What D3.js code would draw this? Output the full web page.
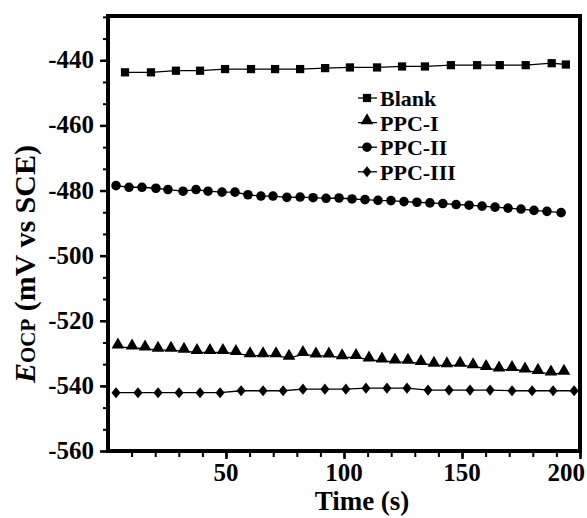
<!DOCTYPE html>
<html lang="en">
<head>
    <meta charset="UTF-8">
    <title>OCP vs time</title>
    <script src="https://d3js.org/d3.v7.min.js"></script>
    <style type="text/css">
        body { margin: 0; background: #fff; }
        text { font-family: "Liberation Serif", "Times New Roman", serif; font-weight: bold; }
    </style>
</head>
    <body>
        <script type="text/javascript">

        //Series data (time in s, potential in mV)
        var blankTime = [7.2, 18.2, 28.8, 39, 49.6, 60.6, 70.8, 81.4, 92, 102.5, 114, 124.6, 134.3, 145.3, 156.4, 166, 177, 188, 194];
        var blankEocp = [-443.7, -443.7, -443.2, -443.2, -442.7, -442.7, -442.7, -442.7, -442.4, -442.2, -442.2, -441.9, -441.9, -441.5, -441.5, -441.5, -441.5, -440.9, -441.3];

        var ppc1Time = [4.2, 10.2, 15.7, 21.2, 26.7, 32.2, 37.7, 43.2, 48.7, 54.2, 60.2, 65.7, 71.2, 76.7, 82.6, 88.1, 93.6, 99.2, 105.1, 110.6, 116.1, 121.6, 127.1, 132.6, 138.1, 143.6, 149.2, 154.7, 160.2, 165.7, 171.2, 176.7, 182.2, 187.7, 193.2];
        var ppc1Eocp = [-528.0, -528.3, -528.6, -529.0, -529.0, -529.3, -529.7, -529.7, -529.7, -530.0, -530.7, -530.7, -530.7, -531.5, -530.3, -530.8, -530.8, -531.3, -531.2, -532.0, -532.3, -532.6, -532.7, -533.1, -533.6, -533.8, -533.6, -534.1, -534.6, -535.1, -534.9, -535.4, -535.8, -536.3, -536.1];

        var ppc2Time = [3.4, 8.9, 14.4, 20.3, 25.4, 31.8, 37.3, 42.4, 48.3, 53.8, 59.3, 64.8, 69.9, 75.8, 81.4, 86.9, 92.4, 97.9, 103.4, 108.9, 114.4, 119.9, 125.4, 130.9, 136.4, 141.9, 147.5, 153, 158.5, 164, 169.5, 175, 180.5, 186, 192];
        var ppc2Eocp = [-478.5, -479.0, -479.0, -479.3, -479.7, -480.2, -479.7, -480.2, -480.5, -480.5, -481.3, -481.7, -481.7, -482.1, -482.0, -482.2, -482.4, -482.3, -482.6, -482.8, -483.0, -483.1, -483.4, -483.6, -483.8, -484.0, -484.3, -484.5, -484.8, -485.1, -485.4, -485.7, -486.1, -486.4, -486.8];

        var ppc3Time = [3.4, 12.7, 21.2, 30.1, 39, 47.5, 56.4, 65.7, 74.2, 82.6, 91.9, 100.8, 109.3, 118.2, 126.7, 135.6, 144.5, 153.4, 161.9, 171.2, 179.7, 188.6, 197.5];
        var ppc3Eocp = [-542.1, -542.1, -542.1, -542.1, -542.1, -542.1, -541.5, -541.5, -541.5, -541.0, -541.0, -541.0, -540.7, -540.7, -540.7, -541.3, -541.3, -541.3, -541.3, -541.5, -541.5, -541.5, -541.5];

        var seriesNames = ["Blank", "PPC-I", "PPC-II", "PPC-III"];
        var xTicks = [50, 100, 150, 200];
        var yTicks = [-560, -540, -520, -500, -480, -460, -440];

        //Width and height
        var w = 587;
        var h = 518;
        var plotLeft = 108, plotRight = 580, plotTop = 16, plotBottom = 451;

        var xScale = d3.scaleLinear().domain([0, 200]).range([plotLeft, plotRight]);
        var yScale = d3.scaleLinear().domain([-560, -426.4]).range([plotBottom, plotTop]);

        //diamond a bit wider than d3's own
        var wideDiamond = {
            draw: function(context, size) {
                var hy = Math.sqrt(size) * 0.62, hx = hy * 0.82;
                context.moveTo(0, -hy);
                context.lineTo(hx, 0);
                context.lineTo(0, hy);
                context.lineTo(-hx, 0);
                context.closePath();
            }
        };

        var series = [
            {name: seriesNames[0], t: blankTime, v: blankEocp, sym: d3.symbolSquare, size: 68, dy: 0},
            {name: seriesNames[1], t: ppc1Time, v: ppc1Eocp, sym: d3.symbolTriangle, size: 70, dy: -2},
            {name: seriesNames[2], t: ppc2Time, v: ppc2Eocp, sym: d3.symbolCircle, size: 72, dy: 0},
            {name: seriesNames[3], t: ppc3Time, v: ppc3Eocp, sym: wideDiamond, size: 80, dy: 0}
        ];

        //Create SVG element
        var svg = d3.select("body")
            .append("svg")
            .attr("width", w)
            .attr("height", h);

        //minor ticks
        var xMinor = d3.range(10, 201, 10);
        var yMinor = d3.range(-560, -426, 20 / 3);

        var xAxis = d3.axisBottom(xScale).tickValues(xMinor).tickSize(6).tickFormat("");
        svg.append("g").attr("transform", "translate(0," + plotBottom + ")").call(xAxis)
            .call(function(g) { g.select(".domain").remove(); })
            .selectAll("line").attr("stroke-width", 2);
        var xMajor = d3.axisBottom(xScale).tickValues(xTicks).tickSize(8).tickFormat("");
        svg.append("g").attr("transform", "translate(0," + plotBottom + ")").call(xMajor)
            .call(function(g) { g.select(".domain").remove(); })
            .selectAll("line").attr("stroke-width", 2.5);

        var yAxis = d3.axisLeft(yScale).tickValues(yMinor).tickSize(5).tickFormat("");
        svg.append("g").attr("transform", "translate(" + plotLeft + ",0)").call(yAxis)
            .call(function(g) { g.select(".domain").remove(); })
            .selectAll("line").attr("stroke-width", 2);
        var yMajor = d3.axisLeft(yScale).tickValues(yTicks).tickSize(8).tickFormat("");
        svg.append("g").attr("transform", "translate(" + plotLeft + ",0)").call(yMajor)
            .call(function(g) { g.select(".domain").remove(); })
            .selectAll("line").attr("stroke-width", 2.5);

        //tick labels
        svg.selectAll(".xlab")
            .data(xTicks)
            .enter()
            .append("text")
            .attr("class", "xlab")
            .attr("x", function(d) { return d == 200 ? xScale(d) + 5 : xScale(d); })
            .attr("y", 481)
            .attr("text-anchor", function(d) { return d == 200 ? "end" : "middle"; })
            .attr("font-size", "25px")
            .text(function(d) { return String(d); });

        svg.selectAll(".ylab")
            .data(yTicks)
            .enter()
            .append("text")
            .attr("class", "ylab")
            .attr("x", 94)
            .attr("y", function(d) { return yScale(d) + 8; })
            .attr("text-anchor", "end")
            .attr("font-size", "25px")
            .text(function(d) { return String(d); });

        //frame
        svg.append("rect")
            .attr("x", plotLeft)
            .attr("y", plotTop)
            .attr("width", plotRight - plotLeft)
            .attr("height", plotBottom - plotTop)
            .attr("fill", "none")
            .attr("stroke", "#000")
            .attr("stroke-width", 4);

        //lines and symbols
        var line = d3.line()
            .x(function(d) { return xScale(d[0]); })
            .y(function(d) { return yScale(d[1]); });

        series.forEach(function(s) {
            var pts = s.t.map(function(t, i) { return [t, s.v[i]]; });
            svg.append("path")
                .datum(pts)
                .attr("d", line)
                .attr("fill", "none")
                .attr("stroke", "#000")
                .attr("stroke-width", 1.3);
            svg.selectAll(null)
                .data(pts)
                .enter()
                .append("path")
                .attr("d", d3.symbol().type(s.sym).size(s.size))
                .attr("transform", function(d) {
                    return "translate(" + xScale(d[0]) + "," + (yScale(d[1]) + s.dy) + ")";
                })
                .attr("fill", "#000");
        });

        //legend
        var legend = svg.append("g");
        series.forEach(function(s, i) {
            var ly = 98 + i * 24.6;
            legend.append("line")
                .attr("x1", 358).attr("x2", 377)
                .attr("y1", ly).attr("y2", ly)
                .attr("stroke", "#000").attr("stroke-width", 1.3);
            legend.append("path")
                .attr("d", d3.symbol().type(s.sym).size(s.size))
                .attr("transform", "translate(367," + (ly + s.dy) + ")")
                .attr("fill", "#000");
            legend.append("text")
                .attr("x", 380)
                .attr("y", ly + 8)
                .attr("font-size", "22px")
                .text(s.name);
        });

        //axis titles
        svg.append("text")
            .attr("x", 362)
            .attr("y", 510)
            .attr("text-anchor", "middle")
            .attr("font-size", "27px")
            .text("Time (s)");

        var yTitle = svg.append("text")
            .attr("transform", "translate(35,383) rotate(-90)")
            .attr("font-size", "30px");
        yTitle.append("tspan").attr("font-style", "italic").text("E");
        yTitle.append("tspan").attr("font-size", "21px").text("OCP");
        yTitle.append("tspan").text(" (mV vs SCE)");

        </script>
    </body>
</html>
